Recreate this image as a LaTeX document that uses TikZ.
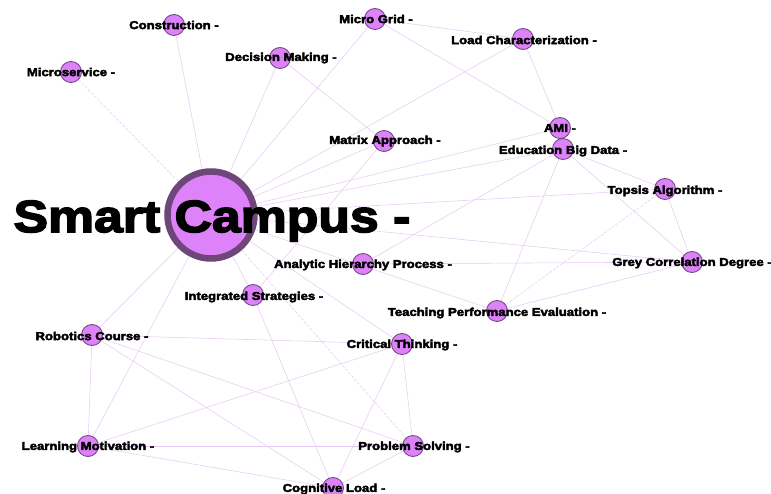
\documentclass[tikz,border=0pt]{standalone}
\usepackage{fontspec}
\setmainfont{Liberation Sans}
\newfontfamily\labfont{Liberation Sans}[FakeStretch=1.15, BoldFeatures={FakeBold=3.5}]
\usetikzlibrary{backgrounds}
\definecolor{nodefill}{RGB}{221,130,248}
\definecolor{nodeborder}{RGB}{118,74,132}
\definecolor{hubborder}{RGB}{110,70,122}
\definecolor{edgec}{RGB}{230,202,243}
\tikzset{
  x=1pt, y=-1pt,
  edge/.style={draw=edgec, line width=0.55pt},
  dashedge/.style={draw=edgec, line width=0.55pt, dash pattern=on 3pt off 1.5pt},
  dot/.style={circle, fill=nodefill, draw=nodeborder, line width=0.9pt, minimum size=21pt, inner sep=0pt},
  hub/.style={circle, fill=nodefill, draw=hubborder, line width=6.5pt, minimum size=87pt, inner sep=0pt},
  lab/.style={font=\labfont\bfseries\fontsize{11.4}{12}\selectfont, text=black, inner sep=0pt},
  biglab/.style={font=\labfont\bfseries\fontsize{45}{50}\selectfont, text=black, inner sep=0pt},
}
\begin{document}
\begin{tikzpicture}
\useasboundingbox (0,0) rectangle (771,494);
% nodes
\node[hub] (sc) at (211,215) {};
\node[dot] (ms) at (71,72) {};
\node[dot] (con) at (174,25) {};
\node[dot] (dm) at (280,58) {};
\node[dot] (mg) at (375,19) {};
\node[dot] (lc) at (523,39) {};
\node[dot] (ami) at (560,128) {};
\node[dot] (ebd) at (563,149) {};
\node[dot] (ma) at (384,141) {};
\node[dot] (top) at (665,189) {};
\node[dot] (grey) at (692,262) {};
\node[dot] (ahp) at (363,264) {};
\node[dot] (tpe) at (497,311) {};
\node[dot] (is) at (253,295) {};
\node[dot] (rc) at (92,335) {};
\node[dot] (ct) at (402,344) {};
\node[dot] (lm) at (88,446) {};
\node[dot] (ps) at (413,446) {};
\node[dot] (cl) at (333,488) {};
% labels
\node[biglab] (l-sc) at (212,221) {Smart Campus -};
\node[lab] (l-ms) at (71,72) {Microservice -};
\node[lab] (l-con) at (174,25) {Construction -};
\node[lab] (l-dm) at (281,58) {Decision Making -};
\node[lab] (l-mg) at (376,19) {Micro Grid -};
\node[lab] (l-lc) at (524,40) {Load Characterization -};
\node[lab] (l-ami) at (560,128) {AMI -};
\node[lab] (l-ebd) at (563,151) {Education Big Data -};
\node[lab] (l-ma) at (385,141) {Matrix Approach -};
\node[lab] (l-top) at (665,191) {Topsis Algorithm -};
\node[lab] (l-grey) at (692,263) {Grey Correlation Degree -};
\node[lab] (l-ahp) at (363,265) {Analytic Hierarchy Process -};
\node[lab] (l-tpe) at (497,313) {Teaching Performance Evaluation -};
\node[lab] (l-is) at (254,297) {Integrated Strategies -};
\node[lab] (l-rc) at (92,336) {Robotics Course -};
\node[lab] (l-ct) at (402,345) {Critical Thinking -};
\node[lab] (l-lm) at (88,447) {Learning Motivation -};
\node[lab] (l-ps) at (414,447) {Problem Solving -};
\node[lab] (l-cl) at (334,489) {Cognitive Load -};
% edges
\begin{scope}[on background layer]
\foreach \a/\b in {sc/con,sc/dm,sc/mg,sc/lc,sc/ma,sc/ami,sc/ebd,sc/top,sc/grey,sc/tpe,sc/is,sc/rc,sc/lm,sc/ct,
  mg/lc,mg/ami,lc/ami,dm/ma,ma/is,ebd/top,ebd/grey,ebd/tpe,ebd/ahp,top/grey,grey/tpe,grey/ahp,
  is/cl,rc/lm,rc/ct,rc/ps,rc/cl,lm/ct,lm/ps,lm/cl,ct/ps,ct/cl,ps/cl}
  \draw[edge] (\a) -- (\b);
\foreach \a/\b in {sc/ms,sc/ps,tpe/top}
  \draw[dashedge] (\a) -- (\b);
\end{scope}
\end{tikzpicture}
\end{document}
